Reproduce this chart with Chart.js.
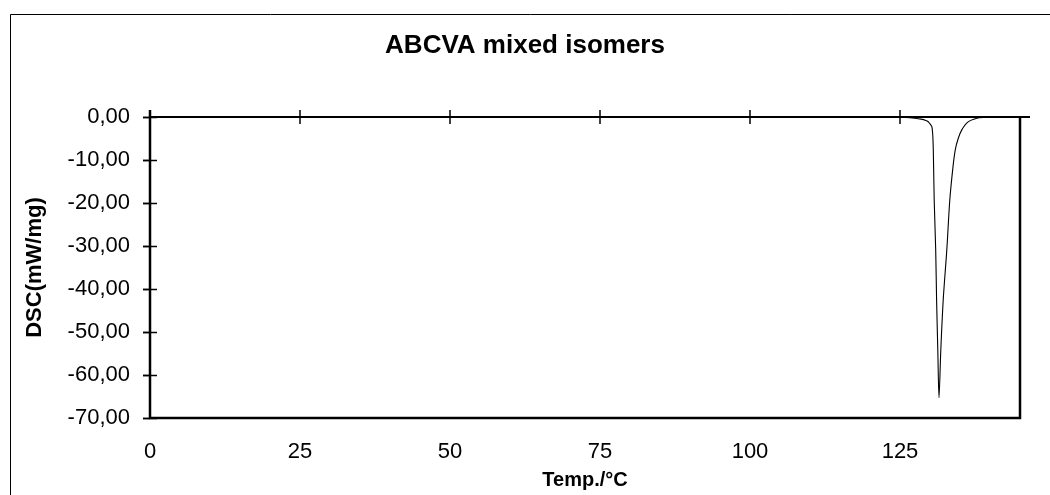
<!DOCTYPE html>
<html>
<head>
<meta charset="utf-8">
<script src="https://cdn.jsdelivr.net/npm/chart.js@4"></script>
<style>
html,body{margin:0;padding:0;background:#fff;}
#wrap{width:1050px;height:495px;position:relative;}
</style>
</head>
<body>
<div id="wrap"><canvas id="c" width="1050" height="495"></canvas></div>
<script>
// Data (Temperature in °C, DSC in mW/mg)
const temps = [20, 30, 35, 38, 40, 45, 50, 60, 75, 90, 100, 110, 118, 122, 125,
  127.5, 128.5, 129.3, 129.7, 130.0, 130.3, 130.45, 130.55, 130.7, 130.95, 131.1, 131.3, 131.5,
  131.8, 132.2, 132.8, 133.3, 133.8, 134.2, 134.7, 135.3, 136.3, 137.8, 139, 141, 145];
const dsc = [0, 0.02, 0.15, 0.35, 0.4, 0.45, 0.4, 0.35, 0.35, 0.3, 0.3, 0.25, 0.15, 0.05, 0,
  -0.3, -0.5, -0.8, -1.1, -1.6, -2.2, -4, -7.7, -19.3, -30.9, -42.6, -54.2, -65.3,
  -54.2, -42.6, -30.9, -19.3, -12, -7.7, -5, -3.0, -1.2, -0.3, -0.1, 0, 0];
const xTicks = [0, 25, 50, 75, 100, 125];
const yTicks = [0, -10, -20, -30, -40, -50, -60, -70];
const chartTitle = 'ABCVA mixed isomers';
const xTitle = 'Temp./°C';
const yTitle = 'DSC(mW/mg)';

const points = temps.map((t, i) => ({x: t, y: dsc[i]}));
const FONT = "'Liberation Sans', Arial, sans-serif";

const framePlugin = {
  id: 'frame',
  beforeDraw(chart) {
    const ctx = chart.ctx;
    ctx.save();
    ctx.strokeStyle = '#000';
    ctx.lineWidth = 1;
    ctx.beginPath();
    ctx.moveTo(10.5, 1000);
    ctx.lineTo(10.5, 14.5);
    ctx.lineTo(1100, 14.5);
    ctx.stroke();
    ctx.restore();
  },
  afterDatasetsDraw(chart) {
    const ctx = chart.ctx;
    const xs = chart.scales.x, ys = chart.scales.y;
    const a = chart.chartArea;
    ctx.save();
    ctx.strokeStyle = '#000';
    // frame: left, bottom, right
    ctx.lineWidth = 2.5;
    ctx.beginPath();
    ctx.moveTo(a.left, a.top - 7);
    ctx.lineTo(a.left, a.bottom);
    ctx.lineTo(a.right, a.bottom);
    ctx.lineTo(a.right, a.top);
    ctx.stroke();
    // x axis line at y = 0
    const y0 = ys.getPixelForValue(0);
    ctx.lineWidth = 2;
    ctx.beginPath();
    ctx.moveTo(a.left, y0);
    ctx.lineTo(a.right + 10, y0);
    ctx.stroke();
    // x ticks crossing the zero line
    ctx.lineWidth = 1.5;
    xTicks.forEach(v => {
      const px = Math.round(xs.getPixelForValue(v));
      ctx.beginPath();
      ctx.moveTo(px, y0 - 7);
      ctx.lineTo(px, y0 + 7);
      ctx.stroke();
    });
    // y ticks crossing the y axis
    yTicks.forEach(v => {
      const py = Math.round(ys.getPixelForValue(v)) + 0.5;
      ctx.beginPath();
      ctx.moveTo(a.left - 7, py);
      ctx.lineTo(a.left + 7, py);
      ctx.stroke();
    });
    ctx.restore();
  }
};

new Chart(document.getElementById('c'), {
  type: 'scatter',
  data: {
    datasets: [{
      data: points,
      showLine: true,
      borderColor: '#000',
      borderWidth: 1.1,
      pointRadius: 0,
      tension: 0.3,
      fill: false
    }]
  },
  options: {
    responsive: false,
    animation: false,
    devicePixelRatio: 1,
    layout: {padding: {left: 0, right: 0, top: 0, bottom: 0}},
    plugins: {
      legend: {display: false},
      tooltip: {enabled: false},
      title: {
        display: true,
        text: chartTitle,
        color: '#000',
        font: {family: FONT, size: 26, weight: 'bold'},
        padding: {top: 30.4, bottom: 55.4}
      }
    },
    scales: {
      x: {
        type: 'linear',
        min: 0,
        max: 145,
        afterBuildTicks(scale) {
          scale.ticks = xTicks.map(v => ({value: v}));
        },
        afterFit(scale) { scale.height = 77; },
        grid: {display: false, drawTicks: false, drawOnChartArea: false},
        border: {display: false},
        ticks: {
          color: '#000',
          font: {family: FONT, size: 22},
          padding: 21,
          maxRotation: 0,
          autoSkip: false,
          callback: v => String(v)
        },
        title: {
          display: true,
          text: xTitle,
          color: '#000',
          font: {family: FONT, size: 20, weight: 'bold'},
          padding: {top: 0, bottom: 3}
        }
      },
      y: {
        type: 'linear',
        min: -70,
        max: 0,
        afterBuildTicks(scale) {
          scale.ticks = yTicks.map(v => ({value: v}));
        },
        afterFit(scale) { scale.width = 150; },
        grid: {display: true, drawOnChartArea: false, drawTicks: true, tickLength: 7, color: '#000', tickWidth: 1.5},
        border: {display: false},
        ticks: {
          color: '#000',
          font: {family: FONT, size: 22},
          padding: 13,
          autoSkip: false,
          callback: v => Number(v).toFixed(2).replace('.', ',')
        },
        title: {
          display: true,
          text: yTitle,
          color: '#000',
          font: {family: FONT, size: 22, weight: 'bold'},
          padding: {top: 22, bottom: 0}
        }
      },
      yRight: {
        type: 'linear',
        position: 'right',
        display: true,
        min: -70,
        max: 0,
        afterFit(scale) { scale.width = 30; },
        grid: {display: false, drawTicks: false},
        border: {display: false},
        ticks: {display: false}
      }
    }
  },
  plugins: [framePlugin]
});
</script>
</body>
</html>
